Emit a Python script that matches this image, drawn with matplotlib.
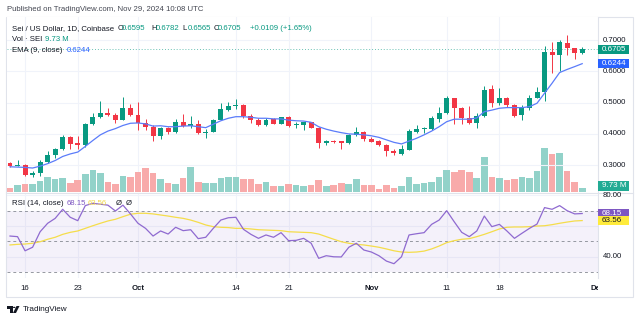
import matplotlib
matplotlib.use('Agg')
import matplotlib.pyplot as plt
import matplotlib.dates as mdates
from matplotlib.patches import Rectangle, Polygon, Circle
from matplotlib.transforms import Bbox, TransformedBbox, blended_transform_factory
import numpy as np
import pandas as pd

plt.rcParams['font.family'] = ['Liberation Sans', 'DejaVu Sans']

# SEI / USD daily, Sep 14 - Nov 29 2024
dates = pd.date_range('2024-09-14', '2024-11-29', freq='D')

opens = [0.306, 0.299, 0.302, 0.269, 0.276, 0.311, 0.333, 0.351, 0.391, 0.371,
         0.363, 0.432, 0.454, 0.468, 0.461, 0.445, 0.482, 0.460, 0.436, 0.422,
         0.394, 0.420, 0.405, 0.437, 0.425, 0.431, 0.402, 0.407, 0.445, 0.476,
         0.489, 0.493, 0.458, 0.445, 0.428, 0.447, 0.433, 0.453, 0.428, 0.428,
         0.437, 0.420, 0.370, 0.377, 0.377, 0.370, 0.396, 0.406, 0.384, 0.378,
         0.366, 0.346, 0.336, 0.349, 0.407, 0.415, 0.417, 0.448, 0.466, 0.514,
         0.482, 0.452, 0.436, 0.457, 0.542, 0.500, 0.514, 0.492, 0.460, 0.484,
         0.516, 0.535, 0.663, 0.652, 0.691, 0.6735, 0.6595]
highs = [0.311, 0.316, 0.303, 0.281, 0.317, 0.345, 0.356, 0.396, 0.393, 0.393,
         0.434, 0.466, 0.506, 0.482, 0.467, 0.519, 0.496, 0.503, 0.447, 0.428,
         0.423, 0.421, 0.447, 0.464, 0.457, 0.444, 0.415, 0.447, 0.498, 0.503,
         0.511, 0.496, 0.463, 0.450, 0.450, 0.452, 0.455, 0.458, 0.439, 0.439,
         0.439, 0.421, 0.381, 0.381, 0.378, 0.400, 0.421, 0.409, 0.391, 0.380,
         0.368, 0.351, 0.365, 0.416, 0.428, 0.423, 0.457, 0.487, 0.522, 0.515,
         0.487, 0.489, 0.468, 0.553, 0.556, 0.546, 0.519, 0.496, 0.492, 0.524,
         0.549, 0.682, 0.693, 0.700, 0.716, 0.675, 0.6782]
lows = [0.295, 0.296, 0.265, 0.263, 0.266, 0.307, 0.324, 0.349, 0.351, 0.351,
        0.359, 0.430, 0.452, 0.458, 0.434, 0.443, 0.458, 0.412, 0.412, 0.378,
        0.383, 0.399, 0.402, 0.423, 0.420, 0.399, 0.388, 0.405, 0.443, 0.473,
        0.479, 0.450, 0.436, 0.425, 0.425, 0.431, 0.431, 0.423, 0.420, 0.413,
        0.418, 0.354, 0.365, 0.370, 0.352, 0.368, 0.393, 0.378, 0.373, 0.362,
        0.330, 0.333, 0.334, 0.348, 0.402, 0.402, 0.413, 0.439, 0.464, 0.431,
        0.431, 0.431, 0.418, 0.453, 0.487, 0.492, 0.485, 0.453, 0.444, 0.476,
        0.514, 0.505, 0.594, 0.602, 0.652, 0.638, 0.6565]
closes = [0.299, 0.302, 0.269, 0.276, 0.311, 0.333, 0.351, 0.391, 0.368, 0.364,
          0.432, 0.454, 0.468, 0.460, 0.444, 0.482, 0.460, 0.436, 0.422, 0.394,
          0.420, 0.407, 0.437, 0.425, 0.431, 0.402, 0.407, 0.444, 0.479, 0.489,
          0.493, 0.456, 0.443, 0.428, 0.444, 0.433, 0.453, 0.426, 0.432, 0.437,
          0.420, 0.370, 0.377, 0.373, 0.372, 0.397, 0.405, 0.384, 0.375, 0.365,
          0.346, 0.338, 0.351, 0.409, 0.415, 0.419, 0.450, 0.468, 0.514, 0.482,
          0.450, 0.436, 0.458, 0.540, 0.500, 0.514, 0.492, 0.458, 0.484, 0.516,
          0.535, 0.663, 0.652, 0.693, 0.6735, 0.6595, 0.6705]
volume_m = [9.7, 16.5, 18.1, 18.1, 24.9, 34.6, 30.1, 32.3, 20.3, 26.4,
            40.7, 49.0, 43.6, 21.9, 18.8, 36.8, 33.9, 45.2, 53.6, 42.9,
            29.4, 19.7, 18.8, 31.6, 55.8, 21.9, 21.0, 21.0, 31.6, 33.2,
            33.2, 29.4, 29.4, 18.1, 21.9, 14.2, 14.2, 18.8, 16.5, 14.2,
            16.5, 26.4, 13.6, 15.1, 19.7, 18.1, 29.4, 16.5, 16.5, 6.8,
            16.5, 9.7, 13.6, 33.2, 18.1, 20.3, 22.6, 34.6, 49.7, 45.9,
            49.7, 45.9, 31.6, 79.1, 34.6, 32.3, 27.1, 28.7, 34.6, 32.3,
            47.5, 98.8, 85.9, 87.5, 48.1, 23.3, 9.73]
ema9 = [0.295, 0.294, 0.293, 0.291, 0.297, 0.305, 0.315, 0.328, 0.336, 0.342,
        0.360, 0.379, 0.397, 0.409, 0.417, 0.427, 0.434, 0.435, 0.432, 0.425,
        0.426, 0.423, 0.423, 0.425, 0.426, 0.423, 0.420, 0.431, 0.442, 0.450,
        0.455, 0.455, 0.453, 0.450, 0.450, 0.448, 0.448, 0.444, 0.442, 0.441,
        0.437, 0.423, 0.415, 0.409, 0.404, 0.400, 0.399, 0.397, 0.394, 0.389,
        0.381, 0.373, 0.368, 0.377, 0.386, 0.397, 0.409, 0.423, 0.439, 0.447,
        0.447, 0.447, 0.451, 0.471, 0.476, 0.482, 0.484, 0.484, 0.484, 0.487,
        0.498, 0.530, 0.562, 0.596, 0.606, 0.615, 0.6244]
rsi = [53.5, 53.1, 43.9, 46.2, 56.3, 61.8, 65.0, 70.9, 65.7, 63.5,
       73.3, 74.8, 74.2, 73.6, 69.8, 73.6, 67.9, 61.8, 58.5, 53.5,
       56.8, 54.8, 59.2, 57.0, 57.6, 51.8, 52.7, 58.5, 63.9, 65.4,
       65.7, 57.9, 54.6, 52.0, 54.2, 52.7, 55.7, 50.5, 50.7, 52.0,
       48.8, 39.0, 40.7, 40.0, 39.9, 46.2, 48.8, 44.4, 43.1, 40.7,
       37.2, 35.5, 40.0, 54.2, 55.0, 55.7, 61.1, 63.9, 70.0, 62.8,
       55.9, 53.1, 56.8, 66.5, 59.6, 61.1, 56.8, 52.0, 55.3, 58.5,
       61.3, 72.0, 70.9, 73.3, 70.0, 67.9, 68.15]
rsi_ma = [47.7, 48.1, 48.3, 48.8, 49.8, 51.4, 52.7, 54.6, 55.9, 56.8,
          58.5, 60.2, 61.8, 63.3, 64.4, 66.1, 67.7, 68.3, 68.3, 67.9,
          67.2, 66.5, 65.7, 65.0, 63.9, 62.4, 60.7, 59.6, 59.2, 59.0,
          58.5, 58.5, 58.1, 57.6, 57.4, 57.2, 57.0, 56.3, 56.1, 55.9,
          55.7, 54.8, 53.1, 51.4, 49.8, 48.8, 48.1, 47.7, 47.0, 46.2,
          45.1, 43.9, 43.1, 42.9, 43.1, 43.7, 45.1, 47.0, 49.2, 50.5,
          51.4, 51.8, 53.1, 54.6, 56.3, 58.1, 59.2, 59.4, 59.4, 59.6,
          60.0, 60.2, 60.9, 61.8, 62.6, 63.3, 63.56]
day_change = 0.0109
day_change_pct = 1.65

price_ticks = [0.7, 0.6, 0.5, 0.4, 0.3]
rsi_grid = [80, 60, 40]
rsi_labels = [80, 40]
date_ticks = ['2024-09-16', '2024-09-23', '2024-10-01', '2024-10-14', '2024-10-21',
              '2024-11-01', '2024-11-11', '2024-11-18', '2024-12-01']
date_labels = ['16', '23', 'Oct', '14', '21', 'Nov', '11', '18', 'Dec']

green = '#089981'
red = '#f23645'
text_col = '#131722'
grid_col = '#f0f3fa'

W, H = 640, 321


def fx(px):
    return px / W


def fy(py):
    return 1 - py / H


fig = plt.figure(figsize=(6.4, 3.21), dpi=100)
fig.patch.set_facecolor('white')

ax = fig.add_axes([fx(7), fy(192), fx(598) - fx(7), fy(17) - fy(192)])
ax_rsi = fig.add_axes([fx(7), fy(278), fx(598) - fx(7), fy(193) - fy(278)])
ax_vol = fig.add_axes(ax.get_position(), sharex=ax)
ax_vol.set_zorder(1)
ax.set_zorder(2)
ax.patch.set_visible(False)

x = mdates.date2num(dates)
x0 = x[0]
for a in (ax, ax_rsi, ax_vol):
    a.set_xlim(x0 - 0.4, x0 + 78.1)
    a.set_xticks([])
    a.set_yticks([])
    for s in a.spines.values():
        s.set_visible(False)

ax.set_ylim(0.2144, 0.7735)
ax_vol.set_ylim(0, 395.5)
ax_rsi.set_ylim(26.2, 81.5)

o = np.array(opens)
c = np.array(closes)
up = c >= o
cols = np.where(up, green, red)

# grid
tick_x = mdates.date2num(pd.to_datetime(date_ticks))
for t in tick_x[:-1]:
    ax_vol.axvline(t, color=grid_col, lw=0.8, zorder=0)
    ax_rsi.axvline(t, color=grid_col, lw=0.8, zorder=0)
for p in price_ticks:
    ax.axhline(p, color=grid_col, lw=0.8, zorder=0)
for r in rsi_grid:
    ax_rsi.axhline(r, color=grid_col, lw=0.8, zorder=0)

# volume
vol_cols = np.where(up, '#92d2c9', '#f8aaaa')
ax_vol.bar(x, volume_m, width=0.88, color=vol_cols, zorder=2)

# candles
body = c - o
body = np.where(np.abs(body) < 0.0025, np.where(up, 0.0025, -0.0025), body)
ax.vlines(x, lows, highs, colors=cols, lw=0.7, zorder=3)
ax.bar(x, body, bottom=o, width=0.66, color=cols, zorder=4)
ax.plot(x, ema9, color='#5b7cfa', lw=0.9, zorder=5)
ax.axhline(closes[-1], color=green, lw=0.7, ls=(0, (1, 2)), alpha=0.6, zorder=2)

# RSI pane
ax_rsi.axhspan(30, 70, color='#7e57c2', alpha=0.08, lw=0, zorder=1)
for lvl in (70, 50, 30):
    ax_rsi.axhline(lvl, color='#9598a1', lw=0.7, ls=(0, (3, 3)), zorder=2)
ax_rsi.plot(x, rsi_ma, color='#f5dd4a', lw=0.9, zorder=3)
ax_rsi.plot(x, rsi, color='#8f6ad0', lw=0.9, zorder=4)

# frame and separators
fig.add_artist(Rectangle((fx(6), fy(297)), fx(633) - fx(6), fy(17) - fy(297),
                         transform=fig.transFigure, fill=False,
                         ec='#e0e3eb', lw=0.8))
fig.add_artist(plt.Line2D([fx(598), fx(598)], [fy(17), fy(278)],
                          transform=fig.transFigure, color='#e0e3eb', lw=0.8))
fig.add_artist(plt.Line2D([fx(6), fx(633)], [fy(192.5), fy(192.5)],
                          transform=fig.transFigure, color='#e0e3eb', lw=0.8))

fs = 5.6


def ypx(axis, val):
    # display y (pixels from top) of a value on an axis
    return H - axis.transData.transform((x0, val))[1]


# price scale labels
for p in price_ticks:
    fig.text(fx(603), fy(ypx(ax, p)), f'{p:.4f}', fontsize=fs, color=text_col,
             va='center', ha='left', zorder=3)
for r in rsi_labels:
    fig.text(fx(603), fy(ypx(ax_rsi, r)), f'{r:.2f}', fontsize=fs, color=text_col,
             va='center', ha='left', zorder=3)


def tag(ycen, label, bg, fg='white'):
    fig.add_artist(Rectangle((fx(598), fy(ycen + 4.6)), fx(629) - fx(598), 9.2 / H,
                             transform=fig.transFigure, fc=bg, ec='none', zorder=4))
    fig.text(fx(602), fy(ycen), label, fontsize=fs + 0.2, color=fg,
             va='center', ha='left', zorder=5)


tag(ypx(ax, closes[-1]), f'{closes[-1]:.4f}', green)
tag(ypx(ax, ema9[-1]), f'{ema9[-1]:.4f}', '#2962ff')
tag(min(ypx(ax_vol, volume_m[-1]), 186), f'{volume_m[-1]:.2f} M', '#22ab94')
tag(ypx(ax_rsi, rsi[-1]), f'{rsi[-1]:.2f}', '#7e57c2')
tag(ypx(ax_rsi, rsi_ma[-1]), f'{rsi_ma[-1]:.2f}', '#ffeb3b', text_col)

# time axis labels
trans = blended_transform_factory(ax_rsi.transData, fig.transFigure)
clip = TransformedBbox(Bbox.from_extents(0, 0, fx(598), 1), fig.transFigure)
for t, lab in zip(tick_x, date_labels):
    bold = not lab.isdigit()
    tx = fig.text(t, fy(289), lab, transform=trans, fontsize=fs, color=text_col,
                  ha='center', va='center', fontweight='bold' if bold else 'normal')
    tx.set_clip_box(clip)
    tx.set_clip_on(True)

# header / legends
fig.text(fx(7), fy(9.5), 'Published on TradingView.com, Nov 29, 2024 10:08 UTC',
         fontsize=5.6, color='#434651', va='center')

row1 = fy(28.3)
fig.text(fx(12), row1, 'Sei / US Dollar, 1D, Coinbase', fontsize=fs, color=text_col, va='center')
ohlc = [('O', opens[-1], 117.3), ('H', highs[-1], 151), ('L', lows[-1], 182.7), ('C', closes[-1], 213.3)]
for letter, val, px in ohlc:
    fig.text(fx(px), row1, letter, fontsize=fs, color=text_col, va='center')
    fig.text(fx(px + 4.8), row1, f'{val:.4f}', fontsize=fs, color=green, va='center')
fig.text(fx(250), row1, f'+{day_change:.4f} (+{day_change_pct:.2f}%)', fontsize=fs,
         color=green, va='center')

fig.text(fx(12), fy(39.3), 'Vol · SEI', fontsize=fs, color=text_col, va='center')
fig.text(fx(45), fy(39.3), f'{volume_m[-1]:.2f} M', fontsize=fs, color=green, va='center')
fig.text(fx(12), fy(50.7), 'EMA (9, close)', fontsize=fs, color=text_col, va='center')
fig.text(fx(66.7), fy(50.7), f'{ema9[-1]:.4f}', fontsize=fs, color='#2962ff', va='center')

rrow = fy(203.3)
fig.text(fx(12), rrow, 'RSI (14, close)', fontsize=fs, color=text_col, va='center')
fig.text(fx(67), rrow, f'{rsi[-1]:.2f}', fontsize=fs, color='#7e57c2', va='center')
fig.text(fx(88), rrow, f'{rsi_ma[-1]:.2f}', fontsize=fs, color='#f2d94e', va='center')
fig.text(fx(116), rrow, 'Ø', fontsize=fs, color=text_col, va='center')
fig.text(fx(126), rrow, 'Ø', fontsize=fs, color=text_col, va='center')

# TradingView logo
fig.add_artist(Polygon([(fx(7), fy(306)), (fx(12.5), fy(306)), (fx(12.5), fy(313)),
                        (fx(10), fy(313)), (fx(10), fy(308.5)), (fx(7), fy(308.5))],
                       closed=True, transform=fig.transFigure, fc=text_col, ec='none'))
fig.add_artist(Circle((fx(14.2), fy(307.4)), 1.3 / W, transform=fig.transFigure,
                      fc=text_col, ec='none'))
fig.add_artist(Polygon([(fx(16.5), fy(306)), (fx(19.5), fy(306)), (fx(16), fy(313)),
                        (fx(13), fy(313))],
                       closed=True, transform=fig.transFigure, fc=text_col, ec='none'))
fig.text(fx(22.5), fy(309.5), 'TradingView', fontsize=5.9, color=text_col, va='center')

fig.savefig('out.png', dpi=100)
